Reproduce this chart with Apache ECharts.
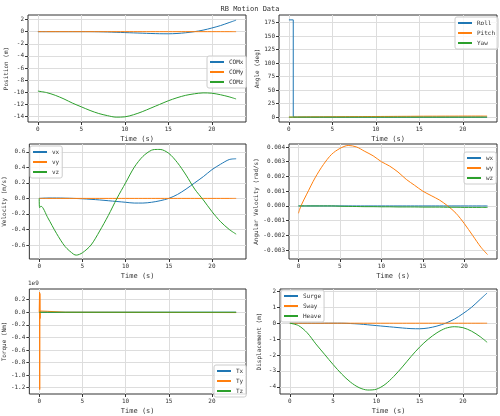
<!DOCTYPE html>
<html><head><meta charset="utf-8">
<script src="https://cdn.jsdelivr.net/npm/echarts@6/dist/echarts.min.js"></script>
<style>html,body{margin:0;padding:0;background:#fff}#c{width:500px;height:416px}</style>
</head><body><div id="c"></div>
<script>
const T = [0,1,2,3,4,5,6,7,8,9,10,11,12,13,14,15,16,17,18,19,20,21,22,22.8];
const COMx = [0,0,0,0,0,0,0,-0.02,-0.05,-0.1,-0.15,-0.2,-0.25,-0.3,-0.34,-0.35,-0.3,-0.18,0.0,0.25,0.6,1.0,1.5,1.9];
const COMy = T.map(()=>0);
const COMz = [-9.8,-10.05,-10.5,-11.1,-11.8,-12.4,-13.0,-13.5,-13.85,-14.1,-14.05,-13.7,-13.2,-12.6,-12.0,-11.4,-10.9,-10.5,-10.25,-10.1,-10.15,-10.4,-10.75,-11.1];
const rollT = [0,0.5,0.5,1,22.8];
const Roll = [180,180,0,0,0];
const Pitch = [0,0.2,0.4,0.5,0.6,0.7,0.8,0.9,1.0,1.1,1.2,1.3,1.4,1.5,1.6,1.7,1.8,1.8,1.9,1.9,2.0,2.0,2.0,2.0];
const Yaw = T.map(()=>0);
const vx = [0,0.005,0.005,0.003,0,-0.005,-0.012,-0.02,-0.03,-0.04,-0.05,-0.06,-0.06,-0.05,-0.03,0.0,0.05,0.12,0.2,0.28,0.37,0.44,0.5,0.51];
const vy = T.map(()=>0);
const vzT = [0,0.05,0.2,1,2,3,4,4.3,5,6,7,8,9,10,11,12,13,13.7,14,15,16,17,18,19,20,21,22,22.8];
const vz = [0,-0.12,-0.1,-0.25,-0.45,-0.62,-0.72,-0.73,-0.7,-0.6,-0.42,-0.22,0.0,0.2,0.4,0.54,0.62,0.63,0.63,0.58,0.46,0.3,0.12,-0.02,-0.17,-0.3,-0.4,-0.46];
const wx = T.map(()=>0);
const wyT = [0,0.3,1,2,3,4,5,6,7,8,9,10,11,12,13,14,15,16,17,18,19,20,21,22,22.8];
const wy = [-0.0005,0.0,0.0008,0.0019,0.0028,0.0035,0.0039,0.0041,0.004,0.0037,0.0034,0.003,0.0027,0.0023,0.0018,0.0014,0.001,0.0007,0.0004,0.0,-0.0005,-0.0012,-0.002,-0.0028,-0.0033];
const wz = [0,0,0,0,0,-0.00002,-0.00003,-0.00004,-0.00005,-0.00005,-0.00006,-0.00006,-0.00007,-0.00007,-0.00007,-0.00008,-0.00008,-0.00008,-0.00009,-0.00009,-0.0001,-0.0001,-0.0001,-0.0001];
const torqT = [0,0.04,0.06,0.08,0.1,0.12,0.2,1,3,22.8];
const Tx = [0,0,0,0,0,0,0,0,0,0];
const Ty = [0,0.32e9,-1.23e9,0.3e9,-0.1e9,0.02e9,0.02e9,0.015e9,0.0,-0.005e9];
const Tz = [0,0,0,0,0,0,0,0,0,0];
const Surge = COMx;
const Sway = T.map(()=>0);
const Heave = [0,-0.15,-0.6,-1.3,-1.95,-2.6,-3.2,-3.7,-4.05,-4.2,-4.15,-3.85,-3.35,-2.75,-2.1,-1.5,-1.0,-0.6,-0.32,-0.22,-0.28,-0.5,-0.85,-1.2];
const xTicks = [0,5,10,15,20];
const yTicks = [
 [-14,-12,-10,-8,-6,-4,-2,0,2],
 [0,25,50,75,100,125,150,175],
 [-0.6,-0.4,-0.2,0,0.2,0.4,0.6],
 [-0.003,-0.002,-0.001,0,0.001,0.002,0.003,0.004],
 [-1.2e9,-1.0e9,-0.8e9,-0.6e9,-0.4e9,-0.2e9,0,0.2e9],
 [-4,-3,-2,-1,0,1,2]
];

const C = ['#1f77b4','#ff7f0e','#2ca02c'];
const F = 'DejaVu Sans Mono';
const zip=(x,y)=>x.map((v,i)=>[v,y[i]]);
const grids=[
 {left:28,top:15,width:218,height:107},
 {left:279,top:15,width:218,height:107},
 {left:28,top:144,width:218,height:115},
 {left:289,top:144,width:208,height:115},
 {left:28,top:289,width:218,height:106},
 {left:280,top:289,width:217,height:106}
].map(g=>Object.assign(g,{show:true,borderColor:'#333',borderWidth:1}));
const ylim=[[-14.9,2.75,'Position (m)'],[-9,189,'Angle (deg)'],[-0.78,0.7,'Velocity (m/s)'],[-0.0036,0.0042,'Angular Velocity (rad/s)'],[-1.3e9,0.37e9,'Torque (Nm)'],[-4.45,2.15,'Displacement (m)']];
const fmt=[v=>String(v),v=>String(v),v=>v.toFixed(1),v=>v.toFixed(3),v=>(v/1e9).toFixed(1),v=>String(v)];
const xAxis=grids.map((g,i)=>({type:'value',gridIndex:i,min:-1.14,max:23.94,
 name:'Time (s)',nameLocation:'middle',nameGap:14,nameTextStyle:{fontFamily:F,fontSize:7,color:'#333'},
 axisLine:{show:false,onZero:false},axisTick:{show:true,length:3,customValues:xTicks,lineStyle:{color:'#333'}},
 axisLabel:{fontFamily:F,fontSize:6,color:'#333',margin:4,customValues:xTicks},
 splitLine:{show:true,lineStyle:{color:'#ddd'}}}));
const yAxis=ylim.map((l,i)=>({type:'value',gridIndex:i,min:l[0],max:l[1],
 name:l[2],nameLocation:'middle',nameGap:i==3?25:(i==1?16:18),nameTextStyle:{fontFamily:F,fontSize:6,color:'#333'},
 axisLine:{show:false,onZero:false},axisTick:{show:true,length:3,customValues:yTicks[i],lineStyle:{color:'#333'}},
 axisLabel:{fontFamily:F,fontSize:6,color:'#333',margin:4,customValues:yTicks[i],formatter:v=>{const s=fmt[i](v);return s==='-0.0'?'0.0':s;}},
 splitLine:{show:true,lineStyle:{color:'#ddd'}}}));
const S=[];
function add(g,name,data,c,smooth=true){S.push({type:'line',name,xAxisIndex:g,yAxisIndex:g,data,showSymbol:false,smooth:smooth?0.3:false,lineStyle:{width:1,color:c},itemStyle:{color:c}});}
add(0,'COMx',zip(T,COMx),C[0]);add(0,'COMy',zip(T,COMy),C[1]);add(0,'COMz',zip(T,COMz),C[2]);
add(1,'Roll',zip(rollT,Roll),C[0],false);add(1,'Pitch',zip(T,Pitch),C[1]);add(1,'Yaw',zip(T,Yaw),C[2]);
add(2,'vx',zip(T,vx),C[0]);add(2,'vy',zip(T,vy),C[1]);add(2,'vz',zip(vzT,vz),C[2]);
add(3,'wx',zip(T,wx),C[0]);add(3,'wy',zip(wyT,wy),C[1]);add(3,'wz',zip(T,wz),C[2]);
add(4,'Tx',zip(torqT,Tx),C[0],false);add(4,'Ty',zip(torqT,Ty),C[1],false);add(4,'Tz',zip(torqT,Tz),C[2],false);
add(5,'Surge',zip(T,Surge),C[0]);add(5,'Sway',zip(T,Sway),C[1]);add(5,'Heave',zip(T,Heave),C[2]);
const lg=(names,pos)=>Object.assign({data:names.map(n=>({name:n,icon:'rect'})),orient:'vertical',itemWidth:14,itemHeight:2,itemGap:4,padding:3,
 backgroundColor:'rgba(255,255,255,0.8)',borderColor:'#ccc',borderWidth:1,borderRadius:2,
 textStyle:{fontFamily:F,fontSize:6,color:'#333'}},pos);
const legend=[
 lg(['COMx','COMy','COMz'],{left:207,top:56}),
 lg(['Roll','Pitch','Yaw'],{left:455,top:17}),
 lg(['vx','vy','vz'],{left:30,top:146}),
 lg(['wx','wy','wz'],{left:464,top:152}),
 lg(['Tx','Ty','Tz'],{left:214,top:365}),
 lg(['Surge','Sway','Heave'],{left:281,top:290})
];
const chart=echarts.init(document.getElementById('c'));
chart.setOption({animation:false,
 title:{text:'RB Motion Data',left:'center',top:1,textStyle:{fontFamily:F,fontSize:7,fontWeight:'normal',color:'#333'}},
 graphic:[{type:'text',left:28,top:280,style:{text:'1e9',font:'6px "DejaVu Sans Mono"',fill:'#333'}}],
 grid:grids,xAxis,yAxis,series:S,legend});
</script></body></html>
